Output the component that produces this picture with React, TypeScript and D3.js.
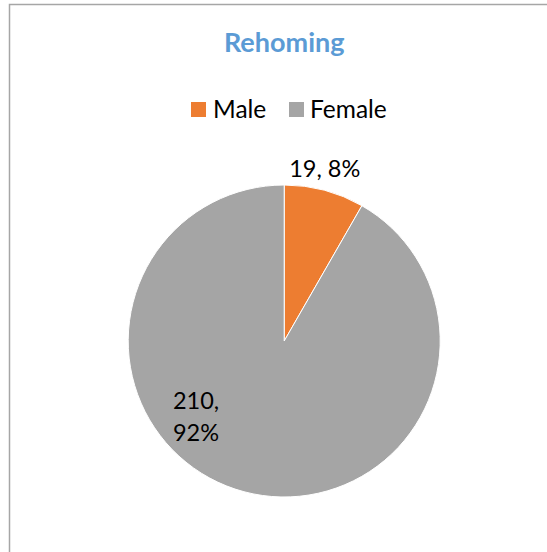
import React from "react";
import * as d3 from "d3";

const title = "Rehoming";
const categories = ["Male", "Female"];
const values = [19, 210];
const colors = ["#ED7D31", "#A5A5A5"];

const W = 547;
const H = 552;
const FONT = "Lato, 'Noto Sans', sans-serif";

export default function App() {
  const cx = 284.2;
  const cy = 341;
  const r = 156;
  const total = d3.sum(values);
  const pie = d3.pie<number>().sort(null).value((d) => d)(values);
  const arc = d3.arc<d3.PieArcDatum<number>>().innerRadius(0).outerRadius(r);
  const pct = (v: number) => `${Math.round((v / total) * 100)}%`;

  // legend layout
  const legendY = 110;
  const sq = 14;
  const legendItems = [
    { x: 191, tx: 213 },
    { x: 289, tx: 310 },
  ];

  return (
    <svg
      width={W}
      height={H}
      style={{ position: "absolute", left: 0, top: 0, background: "#fff" }}
    >
      <rect x={9.5} y={4.5} width={W + 20} height={H + 20} fill="#fff" stroke="#A6A6A6" strokeWidth={1.5} />
      <text
        x={cx}
        y={52}
        textAnchor="middle"
        fontFamily={FONT}
        fontWeight="bold"
        fontSize={27}
        fill="#5B9BD5"
      >
        {title}
      </text>
      {categories.map((c, i) => (
        <g key={c}>
          <rect x={legendItems[i].x} y={legendY - 8} width={sq + 1} height={sq + 1} fill={colors[i]} />
          <text x={legendItems[i].tx} y={legendY + 8} fontFamily={FONT} fontSize={24.5} fill="#000">
            {c}
          </text>
        </g>
      ))}
      <g transform={`translate(${cx},${cy})`}>
        {pie.map((p, i) => (
          <path key={i} d={arc(p) || ""} fill={colors[i]} stroke="#fff" strokeWidth={1} />
        ))}
      </g>
      <text x={cx + 0.26 * r} y={cy - 1.05 * r} textAnchor="middle" fontFamily={FONT} fontSize={23.5} fill="#000">
        {`${values[0]}, ${pct(values[0])}`}
      </text>
      <text fontFamily={FONT} fontSize={23.5} fill="#000">
        <tspan x={cx - 0.713 * r} y={cy + 0.436 * r}>{`${values[1]},`}</tspan>
        <tspan x={cx - 0.713 * r} y={cy + 0.641 * r}>{pct(values[1])}</tspan>
      </text>
    </svg>
  );
}
